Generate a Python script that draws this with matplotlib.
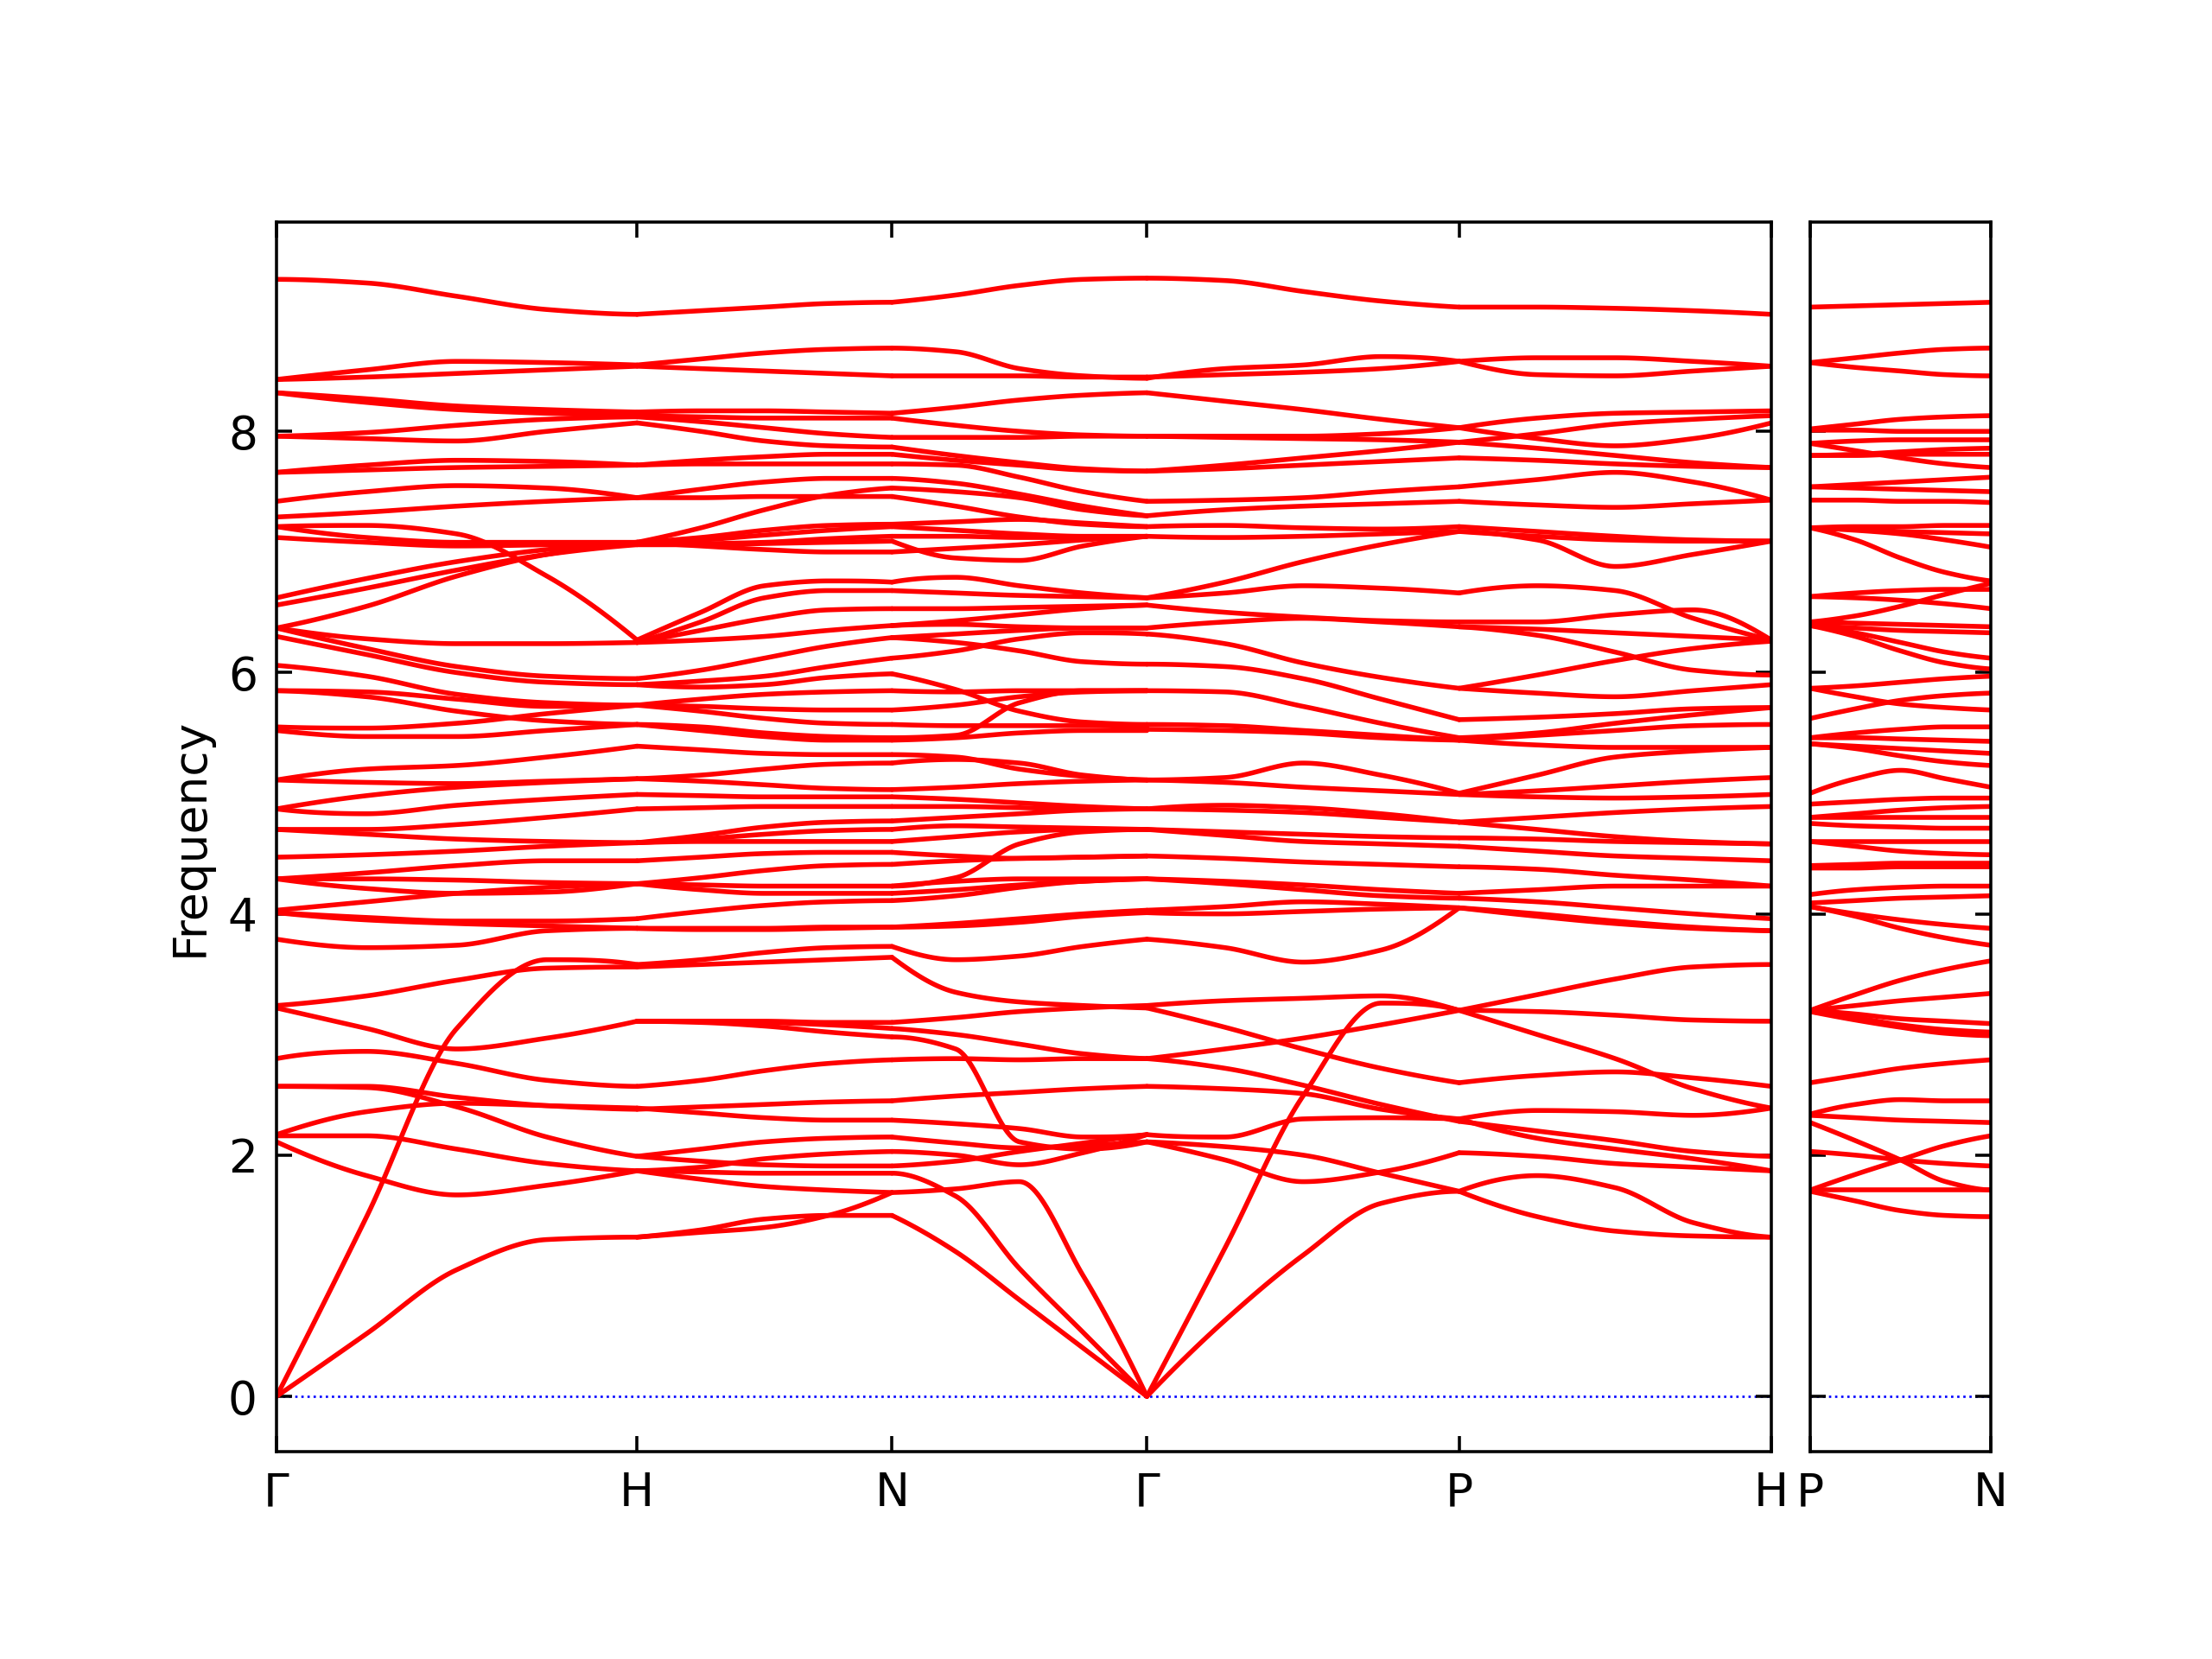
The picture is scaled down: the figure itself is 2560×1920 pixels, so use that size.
import numpy as np
import matplotlib
matplotlib.use("Agg")
import matplotlib.pyplot as plt

# ---------------- data (frequencies read at t = 0, 1/4, 1/2, 3/4, 1 of each path segment) ----------------
seg_labels_main = ["Γ", "H", "N", "Γ", "P", "H"]
seg_labels_side = ["P", "N"]
seg_lengths_main = [1.0, np.sqrt(2) / 2, np.sqrt(2) / 2, np.sqrt(3) / 2, np.sqrt(3) / 2]
seg_length_side = 0.5

bands_GH = [
    [9.26, 9.23, 9.12, 9.01, 8.97],
    [8.43, 8.51, 8.58, 8.57, 8.55],
    [8.43, 8.45, 8.48, 8.51, 8.54],
    [8.32, 8.27, 8.21, 8.18, 8.16],
    [8.32, 8.24, 8.18, 8.15, 8.13],
    [7.96, 7.94, 7.92, 8.00, 8.07],
    [7.96, 7.99, 8.05, 8.10, 8.12],
    [7.66, 7.72, 7.76, 7.75, 7.72],
    [7.66, 7.68, 7.70, 7.71, 7.72],
    [7.42, 7.50, 7.55, 7.53, 7.45],
    [7.29, 7.33, 7.38, 7.42, 7.45],
    [7.21, 7.22, 7.15, 6.80, 6.27],
    [7.21, 7.12, 7.08, 7.08, 7.08],
    [7.12, 7.08, 7.05, 7.06, 7.08],
    [6.62, 6.78, 6.92, 7.02, 7.08],
    [6.56, 6.70, 6.85, 6.98, 7.06],
    [6.37, 6.55, 6.80, 6.98, 7.08],
    [6.37, 6.28, 6.24, 6.24, 6.25],
    [6.37, 6.20, 6.05, 5.97, 5.95],
    [6.30, 6.15, 6.00, 5.92, 5.90],
    [6.06, 5.97, 5.82, 5.75, 5.73],
    [5.85, 5.84, 5.78, 5.72, 5.73],
    [5.85, 5.80, 5.68, 5.60, 5.57],
    [5.55, 5.54, 5.58, 5.66, 5.73],
    [5.52, 5.47, 5.47, 5.52, 5.57],
    [5.11, 5.20, 5.23, 5.30, 5.39],
    [5.11, 5.09, 5.08, 5.10, 5.12],
    [4.87, 4.98, 5.05, 5.09, 5.12],
    [4.87, 4.83, 4.90, 4.95, 4.99],
    [4.70, 4.70, 4.74, 4.80, 4.87],
    [4.70, 4.66, 4.62, 4.60, 4.59],
    [4.47, 4.49, 4.52, 4.56, 4.59],
    [4.29, 4.34, 4.40, 4.44, 4.44],
    [4.29, 4.29, 4.28, 4.26, 4.25],
    [4.29, 4.21, 4.17, 4.18, 4.25],
    [4.03, 4.10, 4.17, 4.22, 4.25],
    [4.01, 3.97, 3.94, 3.94, 3.96],
    [4.01, 3.95, 3.92, 3.90, 3.88],
    [3.79, 3.72, 3.74, 3.86, 3.88],
    [3.24, 3.32, 3.45, 3.55, 3.56],
    [3.22, 3.05, 2.88, 2.97, 3.11],
    [2.80, 2.86, 2.76, 2.62, 2.57],
    [2.57, 2.57, 2.48, 2.41, 2.38],
    [2.57, 2.56, 2.40, 2.15, 1.99],
    [2.17, 2.36, 2.43, 2.41, 2.39],
    [2.16, 2.16, 2.05, 1.93, 1.87],
    [2.11, 1.83, 1.67, 1.75, 1.87],
    [0.00, 0.52, 1.05, 1.30, 1.32],
    [0.00, 1.49, 3.05, 3.62, 3.58],
]

bands_HN = [
    [8.97, 9.00, 9.03, 9.06, 9.07],
    [8.55, 8.60, 8.65, 8.68, 8.69],
    [8.54, 8.52, 8.50, 8.48, 8.46],
    [8.16, 8.17, 8.17, 8.16, 8.15],
    [8.13, 8.12, 8.11, 8.11, 8.11],
    [8.07, 8.00, 7.92, 7.88, 7.87],
    [8.12, 8.08, 8.03, 7.98, 7.95],
    [7.72, 7.76, 7.79, 7.81, 7.81],
    [7.72, 7.73, 7.73, 7.73, 7.73],
    [7.45, 7.52, 7.58, 7.61, 7.61],
    [7.45, 7.45, 7.46, 7.46, 7.46],
    [7.08, 7.20, 7.35, 7.47, 7.53],
    [7.08, 7.12, 7.18, 7.22, 7.23],
    [7.08, 7.10, 7.14, 7.18, 7.21],
    [7.08, 7.07, 7.08, 7.11, 7.13],
    [7.06, 7.06, 7.07, 7.08, 7.09],
    [7.08, 7.05, 7.02, 7.00, 7.00],
    [6.27, 6.50, 6.72, 6.76, 6.75],
    [6.25, 6.42, 6.62, 6.68, 6.68],
    [6.25, 6.35, 6.45, 6.52, 6.53],
    [6.25, 6.27, 6.30, 6.35, 6.39],
    [5.95, 6.02, 6.12, 6.22, 6.29],
    [5.90, 5.93, 5.97, 6.05, 6.12],
    [5.90, 5.88, 5.90, 5.96, 5.99],
    [5.73, 5.78, 5.82, 5.84, 5.85],
    [5.73, 5.72, 5.70, 5.69, 5.69],
    [5.73, 5.68, 5.62, 5.58, 5.57],
    [5.57, 5.55, 5.50, 5.47, 5.46],
    [5.57, 5.52, 5.47, 5.44, 5.44],
    [5.39, 5.36, 5.33, 5.32, 5.32],
    [5.12, 5.15, 5.20, 5.24, 5.25],
    [5.12, 5.10, 5.07, 5.04, 5.03],
    [4.99, 4.98, 4.97, 4.97, 4.97],
    [4.87, 4.88, 4.89, 4.89, 4.89],
    [4.59, 4.65, 4.72, 4.76, 4.77],
    [4.59, 4.62, 4.66, 4.69, 4.70],
    [4.59, 4.60, 4.60, 4.60, 4.60],
    [4.44, 4.47, 4.50, 4.51, 4.51],
    [4.25, 4.30, 4.36, 4.40, 4.41],
    [4.25, 4.24, 4.23, 4.23, 4.23],
    [4.25, 4.20, 4.17, 4.17, 4.17],
    [3.96, 4.02, 4.07, 4.10, 4.11],
    [3.88, 3.88, 3.88, 3.89, 3.89],
    [3.88, 3.87, 3.87, 3.88, 3.89],
    [3.58, 3.62, 3.68, 3.72, 3.73],
    [3.56, 3.58, 3.60, 3.62, 3.64],
    [3.11, 3.11, 3.11, 3.10, 3.10],
    [3.11, 3.11, 3.10, 3.08, 3.05],
    [3.11, 3.10, 3.07, 3.02, 2.98],
    [2.57, 2.62, 2.70, 2.76, 2.79],
    [2.38, 2.40, 2.42, 2.44, 2.45],
    [2.39, 2.35, 2.31, 2.29, 2.29],
    [1.99, 2.05, 2.11, 2.14, 2.15],
    [1.87, 1.90, 1.97, 2.01, 2.03],
    [1.99, 1.95, 1.92, 1.91, 1.91],
    [1.87, 1.86, 1.85, 1.85, 1.85],
    [1.87, 1.80, 1.74, 1.71, 1.69],
    [1.32, 1.36, 1.40, 1.50, 1.69],
    [1.32, 1.38, 1.47, 1.50, 1.50],
]

bands_NG = [
    [9.07, 9.13, 9.21, 9.26, 9.27],
    [8.69, 8.66, 8.52, 8.46, 8.44],
    [8.46, 8.46, 8.46, 8.45, 8.45],
    [8.15, 8.20, 8.26, 8.30, 8.32],
    [8.11, 8.05, 8.00, 7.97, 7.96],
    [7.95, 7.95, 7.95, 7.96, 7.96],
    [7.87, 7.80, 7.74, 7.69, 7.67],
    [7.81, 7.76, 7.72, 7.68, 7.67],
    [7.73, 7.72, 7.62, 7.50, 7.42],
    [7.61, 7.57, 7.48, 7.38, 7.30],
    [7.53, 7.50, 7.45, 7.35, 7.30],
    [7.46, 7.38, 7.29, 7.23, 7.21],
    [7.23, 7.25, 7.27, 7.24, 7.21],
    [7.21, 7.18, 7.15, 7.13, 7.13],
    [7.13, 7.13, 7.12, 7.12, 7.13],
    [7.09, 6.95, 6.93, 7.05, 7.13],
    [7.00, 7.03, 7.06, 7.10, 7.13],
    [6.75, 6.79, 6.72, 6.66, 6.62],
    [6.68, 6.66, 6.64, 6.63, 6.62],
    [6.53, 6.53, 6.54, 6.55, 6.56],
    [6.39, 6.43, 6.48, 6.53, 6.56],
    [6.39, 6.40, 6.38, 6.37, 6.37],
    [6.29, 6.32, 6.35, 6.37, 6.37],
    [6.29, 6.25, 6.18, 6.09, 6.07],
    [6.12, 6.18, 6.28, 6.33, 6.32],
    [5.99, 5.86, 5.68, 5.59, 5.57],
    [5.85, 5.84, 5.85, 5.85, 5.85],
    [5.69, 5.73, 5.80, 5.84, 5.85],
    [5.57, 5.56, 5.56, 5.56, 5.55],
    [5.46, 5.48, 5.75, 5.85, 5.85],
    [5.44, 5.46, 5.50, 5.52, 5.52],
    [5.32, 5.30, 5.20, 5.14, 5.11],
    [5.25, 5.28, 5.25, 5.15, 5.11],
    [5.03, 5.05, 5.08, 5.10, 5.11],
    [4.97, 4.95, 4.92, 4.89, 4.87],
    [4.89, 4.89, 4.88, 4.87, 4.87],
    [4.77, 4.80, 4.83, 4.86, 4.87],
    [4.70, 4.73, 4.72, 4.71, 4.70],
    [4.60, 4.64, 4.68, 4.70, 4.70],
    [4.51, 4.48, 4.46, 4.47, 4.48],
    [4.41, 4.44, 4.46, 4.47, 4.48],
    [4.23, 4.30, 4.58, 4.68, 4.70],
    [4.17, 4.20, 4.24, 4.27, 4.29],
    [4.11, 4.15, 4.22, 4.27, 4.29],
    [4.23, 4.27, 4.29, 4.29, 4.29],
    [3.89, 3.92, 3.96, 4.00, 4.03],
    [3.89, 3.90, 3.93, 3.98, 4.01],
    [3.73, 3.62, 3.65, 3.73, 3.79],
    [3.64, 3.35, 3.27, 3.24, 3.22],
    [3.10, 3.14, 3.19, 3.22, 3.24],
    [3.05, 3.00, 2.92, 2.84, 2.80],
    [2.98, 2.88, 2.11, 2.05, 2.11],
    [2.79, 2.80, 2.79, 2.80, 2.80],
    [2.45, 2.49, 2.52, 2.55, 2.57],
    [2.29, 2.26, 2.22, 2.15, 2.17],
    [2.15, 2.10, 2.06, 2.08, 2.11],
    [2.03, 2.00, 1.92, 2.02, 2.17],
    [1.91, 1.95, 2.03, 2.10, 2.17],
    [1.69, 1.72, 1.78, 1.00, 0.00],
    [1.85, 1.66, 1.06, 0.53, 0.00],
    [1.50, 1.20, 0.80, 0.40, 0.00],
]

bands_GP = [
    [9.27, 9.25, 9.16, 9.08, 9.03],
    [8.44, 8.52, 8.55, 8.62, 8.58],
    [8.45, 8.47, 8.49, 8.52, 8.58],
    [8.32, 8.25, 8.18, 8.10, 8.03],
    [7.96, 7.96, 7.96, 7.98, 8.03],
    [7.96, 7.95, 7.94, 7.93, 7.91],
    [7.67, 7.72, 7.78, 7.84, 7.91],
    [7.67, 7.69, 7.72, 7.75, 7.78],
    [7.42, 7.43, 7.45, 7.50, 7.54],
    [7.30, 7.35, 7.38, 7.40, 7.42],
    [7.21, 7.22, 7.20, 7.19, 7.21],
    [7.13, 7.12, 7.13, 7.15, 7.17],
    [6.62, 6.75, 6.92, 7.06, 7.17],
    [6.62, 6.66, 6.72, 6.70, 6.66],
    [6.56, 6.50, 6.46, 6.43, 6.42],
    [6.37, 6.42, 6.45, 6.42, 6.38],
    [6.32, 6.24, 6.08, 5.96, 5.87],
    [6.07, 6.05, 5.95, 5.78, 5.61],
    [5.85, 5.84, 5.72, 5.58, 5.46],
    [5.57, 5.56, 5.52, 5.48, 5.44],
    [5.53, 5.52, 5.50, 5.46, 5.44],
    [5.11, 5.13, 5.25, 5.15, 5.00],
    [5.11, 5.09, 5.05, 5.02, 4.99],
    [4.87, 4.90, 4.88, 4.83, 4.76],
    [4.87, 4.86, 4.84, 4.80, 4.76],
    [4.70, 4.68, 4.66, 4.64, 4.63],
    [4.70, 4.65, 4.60, 4.58, 4.56],
    [4.48, 4.46, 4.43, 4.41, 4.39],
    [4.29, 4.27, 4.24, 4.20, 4.17],
    [4.29, 4.25, 4.20, 4.15, 4.13],
    [4.03, 4.06, 4.10, 4.08, 4.05],
    [4.01, 4.00, 4.02, 4.04, 4.05],
    [3.79, 3.72, 3.60, 3.70, 4.05],
    [3.24, 3.28, 3.30, 3.32, 3.20],
    [3.22, 3.06, 2.88, 2.72, 2.60],
    [2.80, 2.88, 2.97, 3.08, 3.20],
    [2.80, 2.72, 2.58, 2.42, 2.28],
    [2.57, 2.55, 2.51, 2.38, 2.30],
    [2.17, 2.15, 2.30, 2.31, 2.30],
    [2.11, 2.07, 2.00, 1.85, 1.70],
    [2.11, 1.96, 1.78, 1.86, 2.02],
    [0.00, 1.23, 2.49, 3.26, 3.20],
    [0.00, 0.63, 1.17, 1.60, 1.70],
]

bands_PH = [
    [9.03, 9.03, 9.02, 9.00, 8.97],
    [8.58, 8.47, 8.46, 8.50, 8.54],
    [8.58, 8.61, 8.61, 8.58, 8.54],
    [8.03, 8.11, 8.15, 8.16, 8.17],
    [8.03, 7.94, 7.88, 7.94, 8.07],
    [7.91, 7.98, 8.06, 8.10, 8.13],
    [7.78, 7.76, 7.73, 7.71, 7.70],
    [7.91, 7.86, 7.80, 7.74, 7.70],
    [7.54, 7.60, 7.66, 7.58, 7.43],
    [7.42, 7.39, 7.37, 7.40, 7.43],
    [7.21, 7.17, 7.13, 7.10, 7.09],
    [7.17, 7.10, 6.88, 6.98, 7.09],
    [7.17, 7.13, 7.10, 7.09, 7.09],
    [6.66, 6.72, 6.68, 6.45, 6.27],
    [6.42, 6.42, 6.48, 6.52, 6.27],
    [6.38, 6.36, 6.33, 6.30, 6.27],
    [6.38, 6.31, 6.17, 6.02, 5.98],
    [5.87, 5.98, 6.10, 6.20, 6.26],
    [5.87, 5.83, 5.80, 5.85, 5.90],
    [5.61, 5.63, 5.66, 5.70, 5.71],
    [5.46, 5.50, 5.58, 5.65, 5.71],
    [5.44, 5.48, 5.52, 5.56, 5.57],
    [5.44, 5.40, 5.38, 5.38, 5.38],
    [5.00, 5.15, 5.30, 5.35, 5.38],
    [4.99, 5.02, 5.06, 5.10, 5.13],
    [4.99, 4.97, 4.96, 4.97, 4.99],
    [4.76, 4.80, 4.84, 4.87, 4.89],
    [4.76, 4.70, 4.64, 4.60, 4.58],
    [4.63, 4.62, 4.60, 4.59, 4.58],
    [4.56, 4.52, 4.48, 4.46, 4.44],
    [4.39, 4.37, 4.32, 4.28, 4.23],
    [4.17, 4.20, 4.23, 4.23, 4.23],
    [4.13, 4.10, 4.05, 4.00, 3.96],
    [4.05, 4.00, 3.94, 3.89, 3.86],
    [4.05, 3.98, 3.92, 3.88, 3.86],
    [3.20, 3.33, 3.46, 3.56, 3.58],
    [3.20, 3.19, 3.16, 3.12, 3.11],
    [3.20, 3.00, 2.80, 2.55, 2.39],
    [2.60, 2.66, 2.69, 2.64, 2.57],
    [2.30, 2.37, 2.36, 2.33, 2.39],
    [2.28, 2.20, 2.12, 2.03, 1.99],
    [2.30, 2.14, 2.05, 1.97, 1.87],
    [2.02, 1.99, 1.93, 1.90, 1.87],
    [1.70, 1.83, 1.73, 1.44, 1.32],
    [1.70, 1.49, 1.37, 1.33, 1.32],
]

bands_PN = [
    [9.03, 9.04, 9.05, 9.06, 9.07],
    [8.57, 8.61, 8.65, 8.68, 8.69],
    [8.57, 8.53, 8.50, 8.47, 8.46],
    [8.02, 8.06, 8.10, 8.12, 8.13],
    [8.01, 8.01, 8.00, 8.00, 8.00],
    [7.90, 7.92, 7.93, 7.93, 7.93],
    [7.90, 7.84, 7.78, 7.73, 7.70],
    [7.80, 7.81, 7.83, 7.85, 7.86],
    [7.80, 7.80, 7.81, 7.81, 7.81],
    [7.54, 7.56, 7.58, 7.60, 7.62],
    [7.54, 7.53, 7.52, 7.51, 7.50],
    [7.43, 7.43, 7.42, 7.42, 7.41],
    [7.20, 7.21, 7.21, 7.22, 7.22],
    [7.20, 7.19, 7.17, 7.16, 7.15],
    [7.20, 7.18, 7.15, 7.10, 7.04],
    [7.20, 7.10, 6.95, 6.83, 6.76],
    [6.63, 6.66, 6.68, 6.69, 6.69],
    [6.63, 6.62, 6.60, 6.57, 6.53],
    [6.42, 6.47, 6.55, 6.65, 6.74],
    [6.42, 6.41, 6.40, 6.39, 6.38],
    [6.39, 6.37, 6.35, 6.34, 6.33],
    [6.39, 6.33, 6.25, 6.17, 6.12],
    [6.39, 6.30, 6.18, 6.08, 6.03],
    [5.87, 5.89, 5.92, 5.95, 5.97],
    [5.87, 5.80, 5.74, 5.71, 5.69],
    [5.62, 5.70, 5.77, 5.81, 5.83],
    [5.46, 5.50, 5.53, 5.55, 5.55],
    [5.46, 5.46, 5.45, 5.44, 5.43],
    [5.41, 5.37, 5.31, 5.26, 5.23],
    [5.41, 5.39, 5.37, 5.35, 5.33],
    [5.00, 5.12, 5.19, 5.12, 5.05],
    [4.91, 4.93, 4.95, 4.96, 4.96],
    [4.80, 4.83, 4.86, 4.88, 4.89],
    [4.80, 4.80, 4.80, 4.80, 4.80],
    [4.75, 4.73, 4.72, 4.71, 4.71],
    [4.60, 4.60, 4.60, 4.60, 4.60],
    [4.60, 4.56, 4.52, 4.50, 4.49],
    [4.40, 4.41, 4.42, 4.42, 4.42],
    [4.38, 4.38, 4.39, 4.39, 4.39],
    [4.16, 4.20, 4.22, 4.23, 4.23],
    [4.09, 4.11, 4.13, 4.14, 4.15],
    [4.06, 4.00, 3.95, 3.91, 3.88],
    [4.06, 3.98, 3.88, 3.80, 3.74],
    [3.20, 3.33, 3.45, 3.54, 3.61],
    [3.20, 3.24, 3.28, 3.31, 3.34],
    [3.20, 3.17, 3.13, 3.11, 3.09],
    [3.19, 3.14, 3.08, 3.04, 3.02],
    [3.19, 3.12, 3.06, 3.01, 2.99],
    [2.60, 2.66, 2.72, 2.76, 2.79],
    [2.34, 2.42, 2.46, 2.45, 2.45],
    [2.33, 2.31, 2.29, 2.28, 2.27],
    [2.27, 2.12, 1.96, 1.78, 1.71],
    [2.03, 2.00, 1.96, 1.93, 1.91],
    [1.71, 1.84, 1.96, 2.08, 2.16],
    [1.71, 1.71, 1.71, 1.71, 1.71],
    [1.70, 1.62, 1.54, 1.50, 1.49],
]

main_segments = [bands_GH, bands_HN, bands_NG, bands_GP, bands_PH]


# ---------------- drawing helpers ----------------
def pchip(x, y, xn):
    x = np.asarray(x, float)
    y = np.asarray(y, float)
    h = np.diff(x)
    d = np.diff(y) / h
    n = len(x)
    m = np.zeros(n)
    for k in range(1, n - 1):
        if d[k - 1] * d[k] > 0:
            w1 = 2 * h[k] + h[k - 1]
            w2 = h[k] + 2 * h[k - 1]
            m[k] = (w1 + w2) / (w1 / d[k - 1] + w2 / d[k])

    def end(h0, h1, d0, d1):
        mm = ((2 * h0 + h1) * d0 - h0 * d1) / (h0 + h1)
        if np.sign(mm) != np.sign(d0):
            mm = 0.0
        elif np.sign(d0) != np.sign(d1) and abs(mm) > abs(3 * d0):
            mm = 3 * d0
        return mm

    m[0] = end(h[0], h[1], d[0], d[1])
    m[-1] = end(h[-1], h[-2], d[-1], d[-2])
    idx = np.clip(np.searchsorted(x, xn) - 1, 0, n - 2)
    t = (xn - x[idx]) / h[idx]
    h00 = 2 * t**3 - 3 * t**2 + 1
    h10 = t**3 - 2 * t**2 + t
    h01 = -2 * t**3 + 3 * t**2
    h11 = t**3 - t**2
    return h00 * y[idx] + h10 * h[idx] * m[idx] + h01 * y[idx + 1] + h11 * h[idx] * m[idx + 1]


def draw_segment(ax, x0, length, bands):
    xs = x0 + length * np.linspace(0, 1, 5)
    xf = np.linspace(xs[0], xs[-1], 120)
    for b in bands:
        ax.plot(xf, pchip(xs, b, xf), color="red", lw=1.25, solid_capstyle="round")


# ---------------- figure ----------------
plt.rcParams["font.size"] = 12
fig = plt.figure(figsize=(8, 6), dpi=320)
ax1 = fig.add_axes([0.125, 0.125, 0.6758, 0.741])
ax2 = fig.add_axes([0.8184, 0.125, 0.0816, 0.741])

ticks_main = np.concatenate([[0.0], np.cumsum(seg_lengths_main)])
for i, seg in enumerate(main_segments):
    draw_segment(ax1, ticks_main[i], seg_lengths_main[i], seg)
draw_segment(ax2, 0.0, seg_length_side, bands_PN)

ylim = (-0.458, 9.733)
for ax, xmax in ((ax1, ticks_main[-1]), (ax2, seg_length_side)):
    ax.axhline(0.0, color="blue", ls=":", lw=0.6, zorder=0.5)
    ax.set_xlim(0, xmax)
    ax.set_ylim(*ylim)
    ax.set_yticks([0, 2, 4, 6, 8])
    ax.tick_params(direction="in", top=True, right=True, length=4, width=0.8, pad=5)

ax1.set_xticks(ticks_main)
ax1.set_xticklabels(seg_labels_main)
ax2.set_xticks([0.0, seg_length_side])
ax2.set_xticklabels(seg_labels_side)
ax2.set_yticklabels([])
ax1.set_ylabel("Frequency")

fig.savefig("out.png", dpi=320)
